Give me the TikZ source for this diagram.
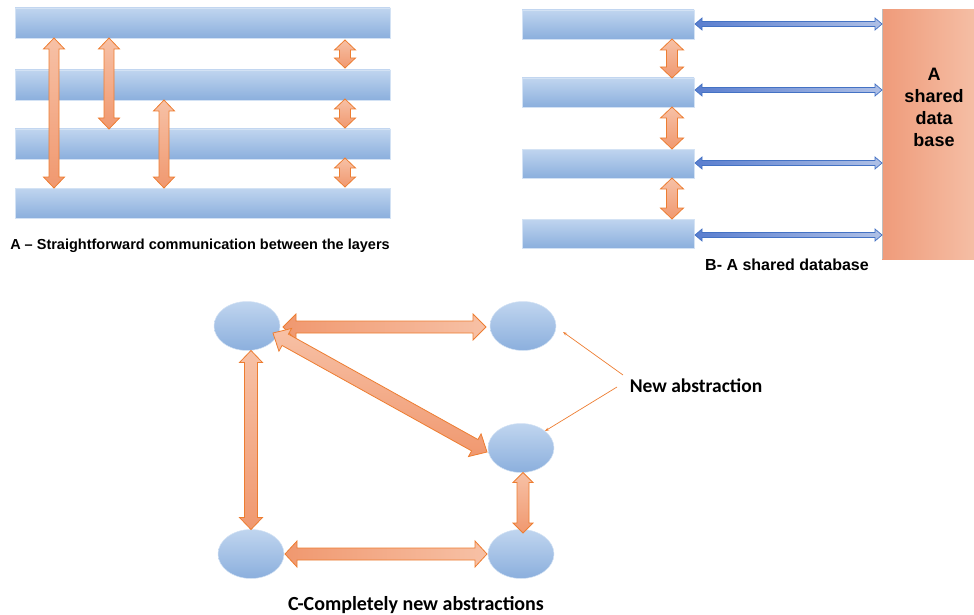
\documentclass[tikz,border=0pt]{standalone}
\usepackage{fontspec}
\setmainfont{Liberation Sans}
\newfontfamily\carlitofont{Carlito}
\usetikzlibrary{calc,shapes.geometric,arrows.meta}

\definecolor{barlight}{HTML}{C0D5EF}
\definecolor{bardark}{HTML}{8BAFDD}
\definecolor{baredge}{HTML}{D3E2F4}
\definecolor{orlight}{HTML}{F7C1A6}
\definecolor{ordark}{HTML}{F0986F}
\definecolor{orline}{HTML}{ED7D31}
\definecolor{bluedark}{HTML}{5A7ECF}
\definecolor{bluelight}{HTML}{AFC0E6}
\definecolor{blueline}{HTML}{4472C4}
\definecolor{dbdark}{HTML}{EF9B7A}
\definecolor{dblight}{HTML}{F5BFA6}

% double-headed block arrow: {style} {from} {to} {shaft half width} {head half width} {head length}
\newcommand{\blockarr}[6]{%
  \path[#1] (#2)
    -- ($(#2)!#6!(#3)!#5!90:(#3)$)
    -- ($(#2)!#6!(#3)!#4!90:(#3)$)
    -- ($(#3)!#6!(#2)!#4!90:(#3)$)
    -- ($(#3)!#6!(#2)!#5!90:(#3)$)
    -- (#3)
    -- ($(#3)!#6!(#2)!#5!-90:(#3)$)
    -- ($(#3)!#6!(#2)!#4!-90:(#3)$)
    -- ($(#2)!#6!(#3)!#4!-90:(#3)$)
    -- ($(#2)!#6!(#3)!#5!-90:(#3)$)
    -- cycle;}

\tikzset{
  bar/.style={rectangle, anchor=north west, inner sep=0pt, outer sep=0pt,
    top color=barlight, bottom color=bardark, draw=baredge, line width=0.5pt},
  ell/.style={ellipse, inner sep=0pt, outer sep=0pt, minimum width=66pt, minimum height=49pt,
    top color=barlight, bottom color=bardark, draw=baredge, line width=0.5pt},
  orv/.style={draw=orline, line width=0.8pt, line join=miter, top color=orlight, bottom color=ordark},
  orh/.style={draw=orline, line width=0.8pt, line join=miter, left color=ordark, right color=orlight},
  bluearr/.style={draw=blueline, line width=0.7pt, line join=miter, left color=bluedark, right color=bluelight},
  pointer/.style={draw=orline, line width=0.7pt, -{Stealth[length=4pt,width=3pt]}},
  caparial/.style={font=\fontsize{14.5}{17}\selectfont\bfseries, inner sep=0pt, anchor=base},
  capcal/.style={font=\carlitofont\fontsize{20}{24}\selectfont\bfseries, inner sep=0pt, anchor=base}
}

\begin{document}
\begin{tikzpicture}[x=1pt,y=-1pt]
\useasboundingbox (0,0) rectangle (974,615);

% ---------- A: layers talking directly ----------
\node[bar, minimum width=375pt, minimum height=30pt] (a1) at (15,8) {};
\node[bar, minimum width=375pt, minimum height=30pt] (a2) at (15,70) {};
\node[bar, minimum width=375pt, minimum height=30pt] (a3) at (15,129) {};
\node[bar, minimum width=375pt, minimum height=30pt] (a4) at (15,188) {};

\coordinate (ax1s) at (54,0 |- a1.south);  \coordinate (ax1e) at (54,0 |- a4.north);
\coordinate (ax2s) at (109,0 |- a1.south); \coordinate (ax2e) at (109,0 |- a3.north);
\coordinate (ax3s) at (164,0 |- a2.south); \coordinate (ax3e) at (164,0 |- a4.north);
\coordinate (ay1s) at (345,40);  \coordinate (ay1e) at (345,68);
\coordinate (ay2s) at (345,99);  \coordinate (ay2e) at (345,128);
\coordinate (ay3s) at (345,158); \coordinate (ay3e) at (345,187);

\blockarr{orv}{ax1s}{ax1e}{5pt}{10.5pt}{11pt}
\blockarr{orv}{ax2s}{ax2e}{5pt}{10.5pt}{11pt}
\blockarr{orv}{ax3s}{ax3e}{5pt}{10.5pt}{11pt}
\blockarr{orv}{ay1s}{ay1e}{5.5pt}{10.5pt}{10pt}
\blockarr{orv}{ay2s}{ay2e}{5.5pt}{10.5pt}{10pt}
\blockarr{orv}{ay3s}{ay3e}{5.5pt}{10.5pt}{10pt}

\node[caparial] (capA) at (200,249) {A -- Straightforward communication between the layers};

% ---------- B: shared database ----------
\node[rectangle, anchor=north west, inner sep=0pt, minimum width=95pt, minimum height=250pt,
  left color=dbdark, right color=dblight] (db) at (882,9) {};
\draw[black!25, line width=0.8pt] (db.north west) -- (db.south west);
\node[font=\fontsize{18}{22}\selectfont\bfseries, align=center, inner sep=0pt, anchor=north]
  (dbtext) at (934,68) {A\\shared\\data\\base};

\node[bar, minimum width=172pt, minimum height=29pt] (b1) at (522,10) {};
\node[bar, minimum width=172pt, minimum height=29pt] (b2) at (522,78) {};
\node[bar, minimum width=172pt, minimum height=29pt] (b3) at (522,149) {};
\node[bar, minimum width=172pt, minimum height=29pt] (b4) at (522,219) {};

\coordinate (bo1s) at (672,0 |- b1.south); \coordinate (bo1e) at (672,0 |- b2.north);
\coordinate (bo2s) at (672,0 |- b2.south); \coordinate (bo2e) at (672,0 |- b3.north);
\coordinate (bo3s) at (672,0 |- b3.south); \coordinate (bo3e) at (672,0 |- b4.north);
\blockarr{orv}{bo1s}{bo1e}{5.5pt}{11.5pt}{11pt}
\blockarr{orv}{bo2s}{bo2e}{5.5pt}{11.5pt}{11pt}
\blockarr{orv}{bo3s}{bo3e}{5.5pt}{11.5pt}{11pt}

\coordinate (bl1s) at (695,24);  \coordinate (bl1e) at (db.west |- bl1s);
\coordinate (bl2s) at (695,90);  \coordinate (bl2e) at (db.west |- bl2s);
\coordinate (bl3s) at (695,163); \coordinate (bl3e) at (db.west |- bl3s);
\coordinate (bl4s) at (695,235); \coordinate (bl4e) at (db.west |- bl4s);
\blockarr{bluearr}{bl1s}{bl1e}{2.5pt}{6pt}{7pt}
\blockarr{bluearr}{bl2s}{bl2e}{2.5pt}{6pt}{7pt}
\blockarr{bluearr}{bl3s}{bl3e}{2.5pt}{6pt}{7pt}
\blockarr{bluearr}{bl4s}{bl4e}{2.5pt}{6pt}{7pt}

\node[caparial, font=\fontsize{16}{19}\selectfont\bfseries] (capB) at (787,270) {B- A shared database};

% ---------- C: new abstractions ----------
\node[ell] (e1) at (247,326) {};
\node[ell] (e2) at (523,326) {};
\node[ell] (e3) at (521,448) {};
\node[ell] (e4) at (251,554) {};
\node[ell] (e5) at (521,554) {};

\coordinate (c12s) at ($(e1.east)+(3,1)$);  \coordinate (c12e) at ($(e2.west)+(-4,1)$);
\coordinate (c13s) at (273,333);            \coordinate (c13e) at (487,452);
\coordinate (c14s) at (251,0 |- e1.south);  \coordinate (c14e) at (251,0 |- e4.north);
\coordinate (c35s) at (523,0 |- e3.south);  \coordinate (c35e) at (523,533);
\coordinate (c45s) at ($(e4.east)+(1,0)$);  \coordinate (c45e) at ($(e5.west)+(-1,0)$);

\blockarr{orh}{c12s}{c12e}{6pt}{13pt}{13pt}
\blockarr{orv}{c13s}{c13e}{6.5pt}{13pt}{14pt}
\blockarr{orv}{c14s}{c14e}{6.5pt}{11.5pt}{12pt}
\blockarr{orv}{c35s}{c35e}{6pt}{10pt}{10pt}
\blockarr{orh}{c45s}{c45e}{6pt}{13pt}{12pt}

\node[capcal, font=\carlitofont\fontsize{19.5}{23}\selectfont\bfseries] (newab) at (696,392) {New abstraction};
\coordinate (na1) at (623,375);
\coordinate (na2) at (617,387);
\coordinate (pt2) at (563,332);
\coordinate (pt3) at (545,431);
\draw[pointer] (na1) -- (pt2);
\draw[pointer] (na2) -- (pt3);

\node[capcal] (capC) at (416,610) {C-Completely new abstractions};
\end{tikzpicture}
\end{document}
